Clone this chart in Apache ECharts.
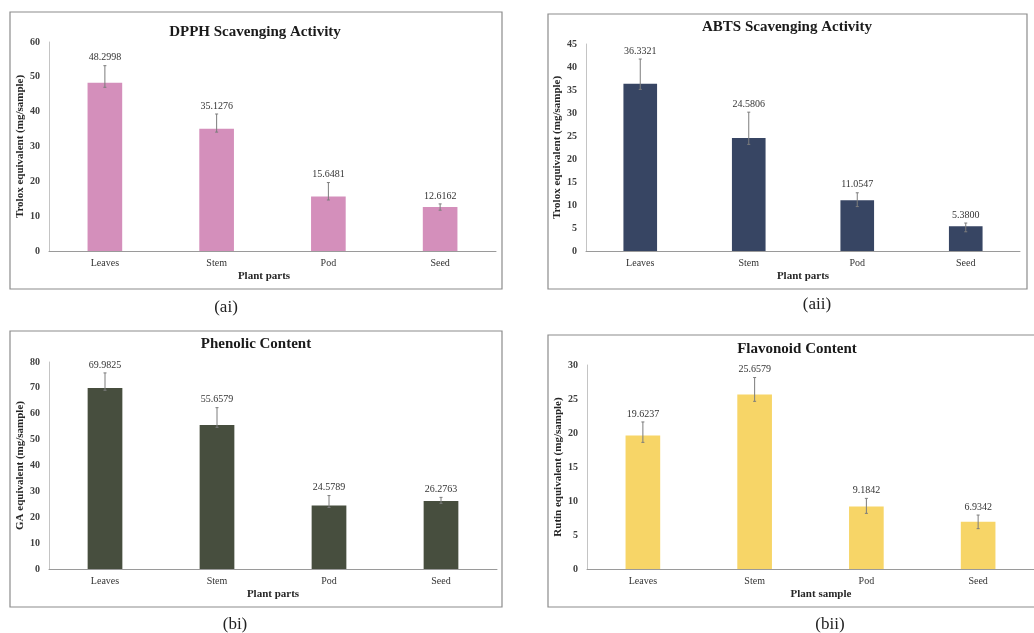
<!DOCTYPE html>
<html>
<head>
<meta charset="utf-8">
<title>Antioxidant activity and phytochemical content by plant part</title>
<script src="https://cdn.jsdelivr.net/npm/echarts@6/dist/echarts.min.js"></script>
<style>
  html, body { margin: 0; padding: 0; background: #ffffff; }
  #chart { width: 1034px; height: 633px; }
</style>
</head>
<body>
<div id="chart"></div>
<script>
// Plant parts shared by all four panels
const categories = ['Leaves', 'Stem', 'Pod', 'Seed'];

// (ai) DPPH scavenging, Trolox equivalent (mg/sample)
const dpphValues = [48.2998, 35.1276, 15.6481, 12.6162];
const dpphErrPlus = [4.9, 4.2, 4.0, 0.9];
const dpphErrMinus = [1.3, 1.0, 1.0, 0.9];

// (aii) ABTS scavenging, Trolox equivalent (mg/sample)
const abtsValues = [36.3321, 24.5806, 11.0547, 5.3800];
const abtsErrPlus = [5.4, 5.6, 1.6, 0.7];
const abtsErrMinus = [1.2, 1.4, 1.4, 1.2];

// (bi) Total phenolics, GA equivalent (mg/sample)
const phenolicValues = [69.9825, 55.6579, 24.5789, 26.2763];
const phenolicErrPlus = [5.8, 6.7, 3.8, 1.4];
const phenolicErrMinus = [0.9, 0.9, 0.8, 0.9];

// (bii) Total flavonoids, Rutin equivalent (mg/sample)
const flavonoidValues = [19.6237, 25.6579, 9.1842, 6.9342];
const flavonoidErrPlus = [2.0, 2.5, 1.2, 1.0];
const flavonoidErrMinus = [1.0, 1.0, 1.0, 1.0];

// Value-axis ranges
const dpphAxis = { max: 60, interval: 10 };
const abtsAxis = { max: 45, interval: 5 };
const phenolicAxis = { max: 80, interval: 10 };
const flavonoidAxis = { max: 30, interval: 5 };

const SERIF = '"Liberation Serif", "Times New Roman", serif';

const panels = [
  {
    title: 'DPPH Scavenging Activity', caption: '(ai)',
    xName: 'Plant parts', yName: 'Trolox equivalent (mg/sample)',
    values: dpphValues, plus: dpphErrPlus, minus: dpphErrMinus, axis: dpphAxis,
    color: '#d48fbb',
    grid: { left: 49, top: 42, width: 447, height: 209 },
    box: { x: 10, y: 12, width: 492, height: 277 },
    titlePos: [255, 32], captionPos: [226, 308],
    xNamePadding: [0, 17, 0, 0]
  },
  {
    title: 'ABTS Scavenging Activity', caption: '(aii)',
    xName: 'Plant parts', yName: 'Trolox equivalent (mg/sample)',
    values: abtsValues, plus: abtsErrPlus, minus: abtsErrMinus, axis: abtsAxis,
    color: '#374563',
    grid: { left: 586, top: 44, width: 434, height: 207 },
    box: { x: 548, y: 14, width: 479, height: 275 },
    titlePos: [787, 27], captionPos: [817, 305],
    xNamePadding: [0, 0, 0, 0]
  },
  {
    title: 'Phenolic Content', caption: '(bi)',
    xName: 'Plant parts', yName: 'GA equivalent (mg/sample)',
    values: phenolicValues, plus: phenolicErrPlus, minus: phenolicErrMinus, axis: phenolicAxis,
    color: '#474e3e',
    grid: { left: 49, top: 362, width: 448, height: 207 },
    box: { x: 10, y: 331, width: 492, height: 276 },
    titlePos: [256, 344], captionPos: [235, 625],
    xNamePadding: [0, 0, 0, 0]
  },
  {
    title: 'Flavonoid Content', caption: '(bii)',
    xName: 'Plant sample', yName: 'Rutin equivalent (mg/sample)',
    values: flavonoidValues, plus: flavonoidErrPlus, minus: flavonoidErrMinus, axis: flavonoidAxis,
    color: '#f7d567',
    grid: { left: 587, top: 365, width: 453, height: 204 },
    box: { x: 548, y: 335, width: 520, height: 272 },
    titlePos: [797, 349], captionPos: [830, 625],
    xNamePadding: [0, 0, 0, 21]
  }
];

// Error bar with small caps, plus the bar's value printed above it
function renderErrorBar(params, api) {
  const idx = api.value(0);
  const value = api.value(1);
  const hi = api.coord([idx, api.value(2)]);
  const lo = api.coord([idx, api.value(3)]);
  const cap = 1.5;
  const stroke = { stroke: '#7c7c7c', lineWidth: 1 };
  return {
    type: 'group',
    children: [
      { type: 'line', shape: { x1: hi[0], y1: hi[1], x2: lo[0], y2: lo[1] }, style: stroke },
      { type: 'line', shape: { x1: hi[0] - cap, y1: hi[1], x2: hi[0] + cap, y2: hi[1] }, style: stroke },
      { type: 'line', shape: { x1: lo[0] - cap, y1: lo[1], x2: lo[0] + cap, y2: lo[1] }, style: stroke },
      {
        type: 'text',
        style: {
          text: value.toFixed(4),
          x: hi[0], y: hi[1] - 3,
          align: 'center', verticalAlign: 'bottom',
          fontFamily: SERIF, fontSize: 10, fill: '#333333'
        }
      }
    ]
  };
}

const grids = [], xAxes = [], yAxes = [], series = [], graphics = [];

panels.forEach((p, i) => {
  grids.push(Object.assign({ containLabel: false }, p.grid));

  xAxes.push({
    type: 'category', gridIndex: i, data: categories,
    name: p.xName, nameLocation: 'middle', nameGap: 20,
    nameTextStyle: {
      fontFamily: SERIF, fontSize: 11, fontWeight: 'bold', color: '#262626',
      padding: p.xNamePadding
    },
    axisLine: { lineStyle: { color: '#9a9a9a', width: 1 } },
    axisTick: { show: false },
    axisLabel: { fontFamily: SERIF, fontSize: 10, color: '#333333', margin: 7 }
  });

  yAxes.push({
    type: 'value', gridIndex: i, min: 0, max: p.axis.max, interval: p.axis.interval,
    name: p.yName, nameLocation: 'middle', nameGap: 22, nameRotate: 90,
    nameTextStyle: { fontFamily: SERIF, fontSize: 11, fontWeight: 'bold', color: '#262626' },
    axisLine: { show: true, lineStyle: { color: '#c4c4c4', width: 1 } },
    axisTick: { show: false },
    splitLine: { show: false },
    axisLabel: { fontFamily: SERIF, fontSize: 10, fontWeight: 'bold', color: '#404040', margin: 9 }
  });

  series.push({
    type: 'bar', xAxisIndex: i, yAxisIndex: i,
    data: p.values, barWidth: '31%',
    itemStyle: { color: p.color },
    silent: true, z: 2
  });

  series.push({
    type: 'custom', xAxisIndex: i, yAxisIndex: i,
    renderItem: renderErrorBar,
    encode: { x: 0, y: [1, 2, 3] },
    data: p.values.map((v, k) => [k, v, v + p.plus[k], v - p.minus[k]]),
    silent: true, z: 5
  });

  // Panel frame, heading and caption
  graphics.push({
    type: 'rect', shape: p.box, silent: true, z: 0,
    style: { fill: 'none', stroke: '#8c8c8c', lineWidth: 1.2 }
  });
  graphics.push({
    type: 'text', x: p.titlePos[0], y: p.titlePos[1], silent: true,
    style: {
      text: p.title, align: 'center', verticalAlign: 'middle',
      fontFamily: SERIF, fontSize: 15, fontWeight: 'bold', fill: '#1a1a1a'
    }
  });
  graphics.push({
    type: 'text', x: p.captionPos[0], y: p.captionPos[1], silent: true,
    style: {
      text: p.caption, align: 'center', verticalAlign: 'middle',
      fontFamily: SERIF, fontSize: 17, fill: '#222222'
    }
  });
});

const chart = echarts.init(document.getElementById('chart'), null, { renderer: 'canvas' });
chart.setOption({
  backgroundColor: '#ffffff',
  animation: false,
  grid: grids,
  xAxis: xAxes,
  yAxis: yAxes,
  series: series,
  graphic: graphics
});
</script>
</body>
</html>
